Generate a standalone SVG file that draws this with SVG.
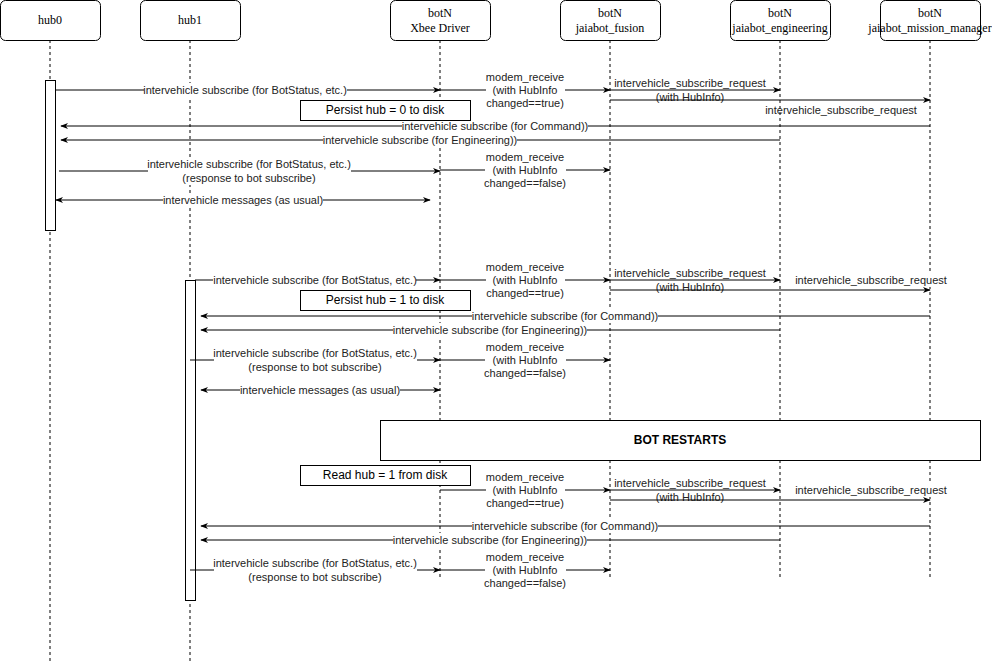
<svg xmlns="http://www.w3.org/2000/svg" width="992" height="661" viewBox="0 0 992 661">
<defs>
<marker id="a" viewBox="0 0 10 10" refX="9" refY="5" markerWidth="8" markerHeight="8" orient="auto-start-reverse" markerUnits="userSpaceOnUse"><path d="M0,1 L10,5 L0,9 L3,5 Z" fill="#000"/></marker>
</defs>
<style>
.hd{fill:#fff;stroke:#000;stroke-width:1}
.ht{font-family:"Liberation Serif",serif;font-size:12px;text-anchor:middle}
.ll{stroke:#000;stroke-dasharray:3 3;fill:none}
.m{stroke:#000;fill:none;marker-end:url(#a)}
.b{stroke:#000;fill:none;marker-end:url(#a);marker-start:url(#a)}
.t{font-family:"Liberation Sans",Arial,sans-serif;font-size:11px;text-anchor:middle;fill:#222}
.bg{fill:#fff}
.note{fill:#fff;stroke:#000}
.nt{font-family:"Liberation Sans",Arial,sans-serif;font-size:12px;text-anchor:middle}
</style>
<rect width="992" height="661" fill="#fff"/>
<g id="lifelines">
<path class="ll" d="M50,40V661M190,40V661M440,40V578M610,40V578M780,40V578M930,40V578"/>
</g>
<g id="hub0"><rect class="hd" x="0.5" y="0.5" width="100" height="40" rx="5"/><text class="ht" x="50" y="24">hub0</text></g>
<g id="hub1"><rect class="hd" x="140.5" y="0.5" width="100" height="40" rx="5"/><text class="ht" x="190" y="24">hub1</text></g>
<g id="xbee"><rect class="hd" x="390.5" y="0.5" width="100" height="40" rx="5"/><text class="ht" x="440" y="17">botN</text><text class="ht" x="440" y="32">Xbee Driver</text></g>
<g id="fusion"><rect class="hd" x="560.5" y="0.5" width="100" height="40" rx="5"/><text class="ht" x="610" y="17">botN</text><text class="ht" x="610" y="32">jaiabot_fusion</text></g>
<g id="eng"><rect class="hd" x="730.5" y="0.5" width="100" height="40" rx="5"/><text class="ht" x="780" y="17">botN</text><text class="ht" x="780" y="32">jaiabot_engineering</text></g>
<g id="mm"><rect class="hd" x="880.5" y="0.5" width="100" height="40" rx="5"/><text class="ht" x="930" y="17">botN</text><text class="ht" x="930" y="32">jaiabot_mission_manager</text></g>
<g id="activations">
<rect class="hd" x="45.5" y="80.5" width="10" height="150"/>
<rect class="hd" x="185.5" y="280.5" width="10" height="320"/>
</g>
<g id="connectors">
<!-- section 1 -->
<path class="m" d="M55,90H440"/><rect class="bg" x="144" y="83" width="203" height="14"/><text class="t" x="245" y="94">intervehicle subscribe (for BotStatus, etc.)</text>
<path class="m" d="M440,90H610"/><rect class="bg" x="486" y="70" width="79" height="40"/><text class="t" x="525" y="81">modem_receive</text><text class="t" x="525" y="94">(with HubInfo</text><text class="t" x="525" y="107">changed==true)</text>
<path class="m" d="M610,90H780"/><text class="t" x="690" y="87">intervehicle_subscribe_request</text><text class="t" x="690" y="101">(with HubInfo)</text>
<path class="m" d="M610,100H930"/><text class="t" x="841" y="114">intervehicle_subscribe_request</text>
<path class="m" d="M930,126H61"/><rect class="bg" x="402" y="119" width="186" height="14"/><text class="t" x="495" y="130">intervehicle subscribe (for Command))</text>
<path class="m" d="M780,140H61"/><rect class="bg" x="323" y="133" width="194" height="14"/><text class="t" x="420" y="144">intervehicle subscribe (for Engineering))</text>
<path class="m" d="M59,171H440"/><rect class="bg" x="148" y="157" width="203" height="28"/><text class="t" x="249" y="168">intervehicle subscribe (for BotStatus, etc.)</text><text class="t" x="249" y="182">(response to bot subscribe)</text>
<path class="m" d="M440,170H610"/><rect class="bg" x="485" y="150" width="81" height="40"/><text class="t" x="525" y="161">modem_receive</text><text class="t" x="525" y="174">(with HubInfo</text><text class="t" x="525" y="187">changed==false)</text>
<path class="b" d="M56,200H430"/><rect class="bg" x="163" y="193" width="160" height="14"/><text class="t" x="243" y="204">intervehicle messages (as usual)</text>
<!-- section 2 -->
<path class="m" d="M195,280H440"/><rect class="bg" x="213" y="273" width="203" height="14"/><text class="t" x="315" y="284">intervehicle subscribe (for BotStatus, etc.)</text>
<path class="m" d="M440,280H610"/><rect class="bg" x="486" y="260" width="79" height="40"/><text class="t" x="525" y="271">modem_receive</text><text class="t" x="525" y="284">(with HubInfo</text><text class="t" x="525" y="297">changed==true)</text>
<path class="m" d="M610,280H780"/><text class="t" x="690" y="277">intervehicle_subscribe_request</text><text class="t" x="690" y="291">(with HubInfo)</text>
<path class="m" d="M610,290H930"/><rect class="bg" x="795" y="273" width="152" height="14"/><text class="t" x="871" y="284">intervehicle_subscribe_request</text>
<path class="m" d="M930,316H201"/><rect class="bg" x="472" y="309" width="186" height="14"/><text class="t" x="565" y="320">intervehicle subscribe (for Command))</text>
<path class="m" d="M780,330H201"/><rect class="bg" x="393" y="323" width="194" height="14"/><text class="t" x="490" y="334">intervehicle subscribe (for Engineering))</text>
<path class="m" d="M190,360H440"/><rect class="bg" x="214" y="346" width="203" height="28"/><text class="t" x="315" y="357">intervehicle subscribe (for BotStatus, etc.)</text><text class="t" x="315" y="371">(response to bot subscribe)</text>
<path class="m" d="M440,360H610"/><rect class="bg" x="485" y="340" width="81" height="40"/><text class="t" x="525" y="351">modem_receive</text><text class="t" x="525" y="364">(with HubInfo</text><text class="t" x="525" y="377">changed==false)</text>
<path class="b" d="M201,390H440"/><rect class="bg" x="240" y="383" width="160" height="14"/><text class="t" x="320" y="394">intervehicle messages (as usual)</text>
<!-- section 3 -->
<path class="m" d="M440,490H610"/><rect class="bg" x="486" y="470" width="79" height="40"/><text class="t" x="525" y="481">modem_receive</text><text class="t" x="525" y="494">(with HubInfo</text><text class="t" x="525" y="507">changed==true)</text>
<path class="m" d="M610,490H780"/><text class="t" x="690" y="487">intervehicle_subscribe_request</text><text class="t" x="690" y="501">(with HubInfo)</text>
<path class="m" d="M610,500H930"/><rect class="bg" x="795" y="483" width="152" height="14"/><text class="t" x="871" y="494">intervehicle_subscribe_request</text>
<path class="m" d="M930,526H201"/><rect class="bg" x="472" y="519" width="186" height="14"/><text class="t" x="565" y="530">intervehicle subscribe (for Command))</text>
<path class="m" d="M780,540H201"/><rect class="bg" x="393" y="533" width="194" height="14"/><text class="t" x="490" y="544">intervehicle subscribe (for Engineering))</text>
<path class="m" d="M190,570H440"/><rect class="bg" x="214" y="556" width="203" height="28"/><text class="t" x="315" y="567">intervehicle subscribe (for BotStatus, etc.)</text><text class="t" x="315" y="581">(response to bot subscribe)</text>
<path class="m" d="M440,570H610"/><rect class="bg" x="485" y="550" width="81" height="40"/><text class="t" x="525" y="561">modem_receive</text><text class="t" x="525" y="574">(with HubInfo</text><text class="t" x="525" y="587">changed==false)</text>
</g>
<g id="notes">
<rect class="note" x="300.5" y="100.5" width="170" height="20"/><text class="nt" x="385" y="114">Persist hub = 0 to disk</text>
<rect class="note" x="300.5" y="290.5" width="170" height="20"/><text class="nt" x="385" y="304">Persist hub = 1 to disk</text>
<rect class="note" x="380.5" y="420.5" width="600" height="40"/><text class="nt" x="680" y="444" font-weight="bold">BOT RESTARTS</text>
<rect class="note" x="300.5" y="465.5" width="170" height="20"/><text class="nt" x="385" y="479">Read hub = 1 from disk</text>
</g>
</svg>
